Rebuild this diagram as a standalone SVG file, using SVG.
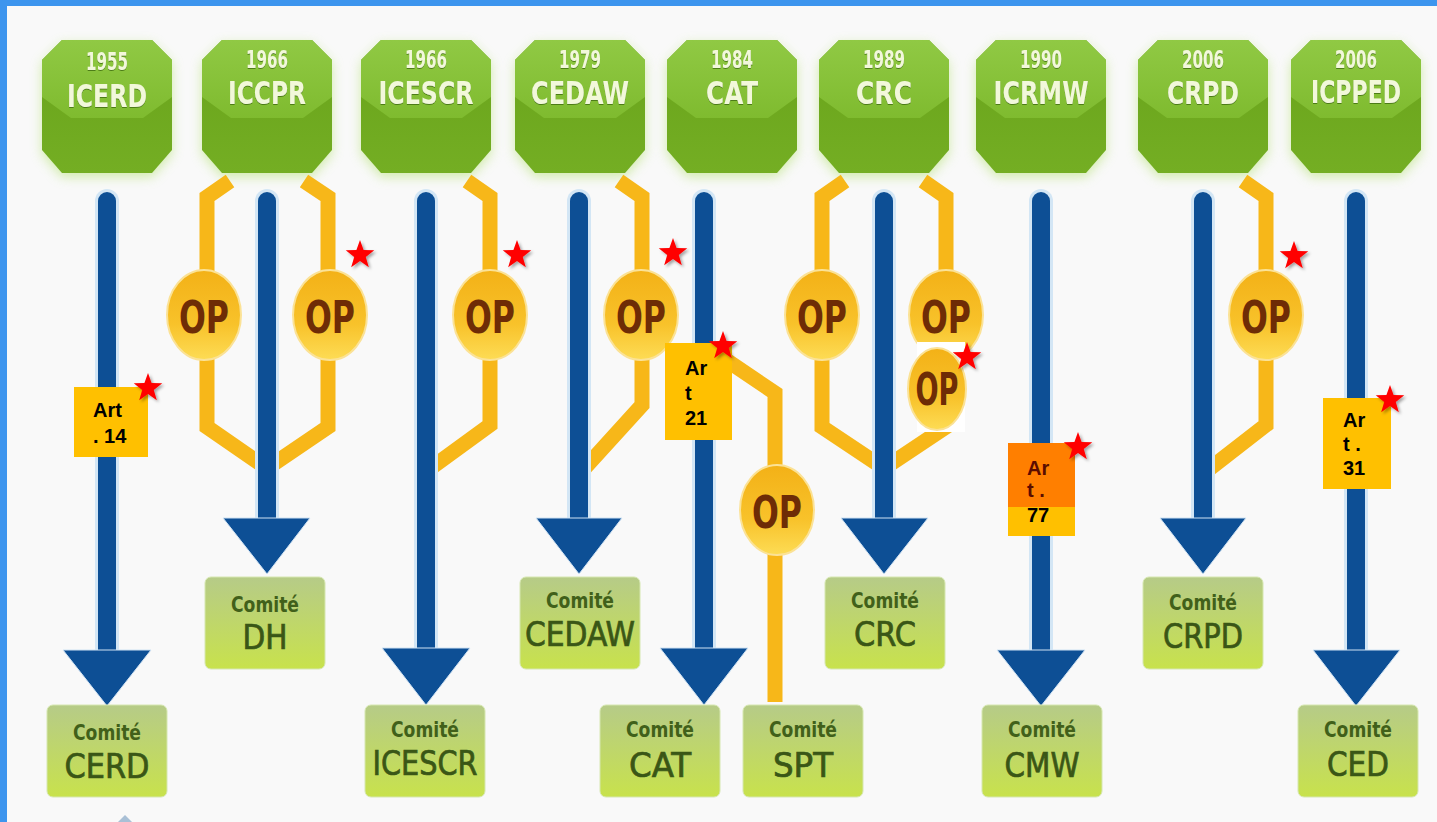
<svg xmlns="http://www.w3.org/2000/svg" width="1437" height="822" viewBox="0 0 1437 822">
<style>
.hex-out{fill:url(#gSide)}
.hex-top{fill:url(#gTop)}
.hex-glow{fill:#c3e690;opacity:.75;filter:url(#blur)}
.yr{font-family:"DejaVu Sans Condensed","DejaVu Sans",sans-serif;font-weight:bold;font-size:25px;fill:#f2f8da;text-anchor:middle;filter:url(#tshadow)}
.nm{font-family:"DejaVu Sans Condensed","DejaVu Sans",sans-serif;font-weight:bold;font-size:32px;fill:#f2f8da;text-anchor:middle;filter:url(#tshadow)}
.box{fill:url(#gBox);stroke:#d6e7b0;stroke-width:1}
.cm{font-family:"DejaVu Sans Condensed","DejaVu Sans",sans-serif;font-weight:bold;font-size:21px;fill:#41601a;text-anchor:middle}
.lb{font-family:"DejaVu Sans Condensed","DejaVu Sans",sans-serif;font-size:34px;fill:#3a5616;stroke:#3a5616;stroke-width:0.7;text-anchor:middle}
.br{fill:none;stroke:#f7b719;stroke-width:15;stroke-linejoin:miter}
.sg{stroke:#d3e6f5;stroke-width:24;stroke-linecap:round}
.sh{stroke:#0d4f95;stroke-width:18;stroke-linecap:round}
.head{fill:#0d4f95;stroke:#cfe2f3;stroke-width:1}
.op{fill:url(#gOP);stroke:#fbe296;stroke-width:2}
.opt{font-family:"DejaVu Sans Condensed","DejaVu Sans",sans-serif;font-weight:bold;font-size:44px;fill:#6e2c06;text-anchor:middle}
.art{fill:#ffc000}
.at{font-family:"Liberation Sans",Arial,sans-serif;font-weight:bold;font-size:20px;fill:#000}
.star{fill:#ff0000;filter:url(#sshadow)}
</style>
<defs>
<linearGradient id="gTop" x1="0" y1="0" x2="0" y2="1"><stop offset="0" stop-color="#90c944"/><stop offset="1" stop-color="#7fbb2f"/></linearGradient>
<linearGradient id="gSide" x1="0" y1="0" x2="0" y2="1"><stop offset="0" stop-color="#68a31b"/><stop offset="1" stop-color="#74ae23"/></linearGradient>
<linearGradient id="gBox" x1="0" y1="0" x2="0" y2="1"><stop offset="0" stop-color="#b6cb88"/><stop offset="1" stop-color="#c8e24c"/></linearGradient>
<linearGradient id="gOP" x1="0" y1="0" x2="0" y2="1"><stop offset="0" stop-color="#f3b117"/><stop offset="0.6" stop-color="#f8c22a"/><stop offset="1" stop-color="#fddc55"/></linearGradient>
<path id="hexOut" d="M-45,0 L45,0 L65,20 L65,110 L45,133 L-45,133 L-65,110 L-65,20Z"/>
<path id="hexTop" d="M-45,0 L45,0 L65,20 L65,57 L36,78 L-36,78 L-65,57 L-65,20Z"/>
<path id="star" d="M0,-15 L3.59,-4.94 L14.27,-4.64 L5.8,1.88 L8.82,12.14 L0,6.1 L-8.82,12.14 L-5.8,1.88 L-14.27,-4.64 L-3.59,-4.94Z"/>
<filter id="blur" x="-30%" y="-30%" width="160%" height="160%"><feGaussianBlur stdDeviation="6"/></filter>
<filter id="sshadow" x="-50%" y="-50%" width="200%" height="200%"><feDropShadow dx="2" dy="2" stdDeviation="1.5" flood-color="#000" flood-opacity="0.35"/></filter>
<filter id="tshadow" x="-10%" y="-20%" width="120%" height="140%"><feDropShadow dx="0" dy="1" stdDeviation="0.7" flood-color="#3d6a0c" flood-opacity="0.8"/></filter>
</defs>

<rect x="0" y="0" width="1437" height="822" fill="#f9f9f9"/>
<rect x="0" y="0" width="1437" height="6" fill="#3d95ee"/>
<rect x="0" y="0" width="7" height="822" fill="#3d95ee"/>

<!-- treaty hexagons -->
<g id="t-icerd" transform="translate(107,40)"><use href="#hexOut" class="hex-glow" y="4"/><use href="#hexOut" class="hex-out"/><use href="#hexTop" class="hex-top"/><text class="yr" y="30" textLength="42" lengthAdjust="spacingAndGlyphs">1955</text><text class="nm" y="67" textLength="80" lengthAdjust="spacingAndGlyphs">ICERD</text></g>
<g id="t-iccpr" transform="translate(267,40)"><use href="#hexOut" class="hex-glow" y="4"/><use href="#hexOut" class="hex-out"/><use href="#hexTop" class="hex-top"/><text class="yr" y="28" textLength="42" lengthAdjust="spacingAndGlyphs">1966</text><text class="nm" y="64" textLength="78" lengthAdjust="spacingAndGlyphs">ICCPR</text></g>
<g id="t-icescr" transform="translate(426,40)"><use href="#hexOut" class="hex-glow" y="4"/><use href="#hexOut" class="hex-out"/><use href="#hexTop" class="hex-top"/><text class="yr" y="28" textLength="42" lengthAdjust="spacingAndGlyphs">1966</text><text class="nm" y="64" textLength="95" lengthAdjust="spacingAndGlyphs">ICESCR</text></g>
<g id="t-cedaw" transform="translate(580,40)"><use href="#hexOut" class="hex-glow" y="4"/><use href="#hexOut" class="hex-out"/><use href="#hexTop" class="hex-top"/><text class="yr" y="28" textLength="42" lengthAdjust="spacingAndGlyphs">1979</text><text class="nm" y="64" textLength="98" lengthAdjust="spacingAndGlyphs">CEDAW</text></g>
<g id="t-cat" transform="translate(732,40)"><use href="#hexOut" class="hex-glow" y="4"/><use href="#hexOut" class="hex-out"/><use href="#hexTop" class="hex-top"/><text class="yr" y="28" textLength="42" lengthAdjust="spacingAndGlyphs">1984</text><text class="nm" y="64" textLength="52" lengthAdjust="spacingAndGlyphs">CAT</text></g>
<g id="t-crc" transform="translate(884,40)"><use href="#hexOut" class="hex-glow" y="4"/><use href="#hexOut" class="hex-out"/><use href="#hexTop" class="hex-top"/><text class="yr" y="28" textLength="42" lengthAdjust="spacingAndGlyphs">1989</text><text class="nm" y="64" textLength="56" lengthAdjust="spacingAndGlyphs">CRC</text></g>
<g id="t-icrmw" transform="translate(1041,40)"><use href="#hexOut" class="hex-glow" y="4"/><use href="#hexOut" class="hex-out"/><use href="#hexTop" class="hex-top"/><text class="yr" y="28" textLength="42" lengthAdjust="spacingAndGlyphs">1990</text><text class="nm" y="64" textLength="95" lengthAdjust="spacingAndGlyphs">ICRMW</text></g>
<g id="t-crpd" transform="translate(1203,40)"><use href="#hexOut" class="hex-glow" y="4"/><use href="#hexOut" class="hex-out"/><use href="#hexTop" class="hex-top"/><text class="yr" y="28" textLength="42" lengthAdjust="spacingAndGlyphs">2006</text><text class="nm" y="64" textLength="72" lengthAdjust="spacingAndGlyphs">CRPD</text></g>
<g id="t-icpped" transform="translate(1356,40)"><use href="#hexOut" class="hex-glow" y="4"/><use href="#hexOut" class="hex-out"/><use href="#hexTop" class="hex-top"/><text class="yr" y="28" textLength="42" lengthAdjust="spacingAndGlyphs">2006</text><text class="nm" y="63" textLength="90" lengthAdjust="spacingAndGlyphs">ICPPED</text></g>

<!-- connectors -->
<g id="connectors">
  <g id="op-branches">
    <path class="br" d="M230,181 L207,197 L207,280 M207,350 L207,427 L262,465"/>
    <path class="br" d="M304,181 L328,197 L328,280 M328,350 L328,427 L272,465"/>
    <path class="br" d="M467,181 L490,197 L490,280 M490,350 L490,425 L431,468"/>
    <path class="br" d="M619,181 L642,197 L642,280 M642,350 L642,405 L583,470"/>
    <path class="br" d="M704,345 L775,393 L775,470 M775,550 L775,702"/>
    <path class="br" d="M845,181 L822,197 L822,280 M822,350 L822,427 L879,465"/>
    <path class="br" d="M923,181 L946,197 L946,280 M946,350 L946,427 L889,465"/>
    <path class="br" d="M1243,181 L1266,197 L1266,280 M1266,350 L1266,425 L1208,470"/>
  </g>
  <g id="shafts">
    <line class="sg" x1="107" y1="201" x2="107" y2="652"/><line class="sh" x1="107" y1="201" x2="107" y2="652"/>
    <polygon class="head" points="63,650 151,650 107,706"/>
    <line class="sg" x1="267" y1="201" x2="267" y2="520"/><line class="sh" x1="267" y1="201" x2="267" y2="520"/>
    <polygon class="head" points="223,518 310,518 267,574"/>
    <line class="sg" x1="426" y1="201" x2="426" y2="650"/><line class="sh" x1="426" y1="201" x2="426" y2="650"/>
    <polygon class="head" points="382,648 470,648 426,705"/>
    <line class="sg" x1="579" y1="201" x2="579" y2="520"/><line class="sh" x1="579" y1="201" x2="579" y2="520"/>
    <polygon class="head" points="536,518 622,518 579,574"/>
    <line class="sg" x1="704" y1="201" x2="704" y2="650"/><line class="sh" x1="704" y1="201" x2="704" y2="650"/>
    <polygon class="head" points="660,648 748,648 704,705"/>
    <line class="sg" x1="884" y1="201" x2="884" y2="520"/><line class="sh" x1="884" y1="201" x2="884" y2="520"/>
    <polygon class="head" points="841,518 928,518 884,574"/>
    <line class="sg" x1="1041" y1="201" x2="1041" y2="652"/><line class="sh" x1="1041" y1="201" x2="1041" y2="652"/>
    <polygon class="head" points="997,650 1085,650 1041,706"/>
    <line class="sg" x1="1203" y1="201" x2="1203" y2="520"/><line class="sh" x1="1203" y1="201" x2="1203" y2="520"/>
    <polygon class="head" points="1160,518 1246,518 1203,574"/>
    <line class="sg" x1="1356" y1="201" x2="1356" y2="652"/><line class="sh" x1="1356" y1="201" x2="1356" y2="652"/>
    <polygon class="head" points="1313,650 1400,650 1356,706"/>
  </g>
</g>

<!-- OP nodes -->
<g id="op-iccpr-1"><ellipse class="op" cx="204" cy="315" rx="37" ry="45"/><text class="opt" x="204" y="333" textLength="50" lengthAdjust="spacingAndGlyphs">OP</text></g>
<g id="op-iccpr-2"><ellipse class="op" cx="330" cy="315" rx="37" ry="45"/><text class="opt" x="330" y="333" textLength="50" lengthAdjust="spacingAndGlyphs">OP</text></g>
<g id="op-icescr"><ellipse class="op" cx="490" cy="315" rx="37" ry="45"/><text class="opt" x="490" y="333" textLength="50" lengthAdjust="spacingAndGlyphs">OP</text></g>
<g id="op-cedaw"><ellipse class="op" cx="641" cy="315" rx="37" ry="45"/><text class="opt" x="641" y="333" textLength="50" lengthAdjust="spacingAndGlyphs">OP</text></g>
<g id="op-cat"><ellipse class="op" cx="777" cy="510" rx="37" ry="45"/><text class="opt" x="777" y="528" textLength="50" lengthAdjust="spacingAndGlyphs">OP</text></g>
<g id="op-crc-1"><ellipse class="op" cx="822" cy="315" rx="37" ry="45"/><text class="opt" x="822" y="333" textLength="50" lengthAdjust="spacingAndGlyphs">OP</text></g>
<g id="op-crc-2"><ellipse class="op" cx="946" cy="315" rx="37" ry="45"/><text class="opt" x="946" y="333" textLength="50" lengthAdjust="spacingAndGlyphs">OP</text></g>
<g id="op-crpd"><ellipse class="op" cx="1266" cy="315" rx="37" ry="45"/><text class="opt" x="1266" y="333" textLength="50" lengthAdjust="spacingAndGlyphs">OP</text></g>
<g id="op-crc-3"><rect x="917" y="342" width="48" height="90" fill="#ffffff"/><ellipse class="op" cx="937" cy="389" rx="29" ry="41"/><text class="opt" x="937" y="405" font-size="40" textLength="43" lengthAdjust="spacingAndGlyphs">OP</text></g>

<!-- committee nodes -->
<g id="c-cerd"><rect class="box" x="47" y="705" width="120" height="92" rx="6"/><text class="cm" x="107" y="740" textLength="68" lengthAdjust="spacingAndGlyphs">Comité</text><text class="lb" x="107" y="778" textLength="85" lengthAdjust="spacingAndGlyphs">CERD</text></g>
<g id="c-dh"><rect class="box" x="205" y="577" width="120" height="92" rx="6"/><text class="cm" x="265" y="612" textLength="68" lengthAdjust="spacingAndGlyphs">Comité</text><text class="lb" x="265" y="649" textLength="45" lengthAdjust="spacingAndGlyphs">DH</text></g>
<g id="c-icescr"><rect class="box" x="365" y="705" width="120" height="92" rx="6"/><text class="cm" x="425" y="737" textLength="68" lengthAdjust="spacingAndGlyphs">Comité</text><text class="lb" x="425" y="775" textLength="105" lengthAdjust="spacingAndGlyphs">ICESCR</text></g>
<g id="c-cedaw"><rect class="box" x="520" y="577" width="120" height="92" rx="6"/><text class="cm" x="580" y="608" textLength="68" lengthAdjust="spacingAndGlyphs">Comité</text><text class="lb" x="580" y="646" textLength="110" lengthAdjust="spacingAndGlyphs">CEDAW</text></g>
<g id="c-cat"><rect class="box" x="600" y="705" width="120" height="92" rx="6"/><text class="cm" x="660" y="737" textLength="68" lengthAdjust="spacingAndGlyphs">Comité</text><text class="lb" x="660" y="777" textLength="62" lengthAdjust="spacingAndGlyphs">CAT</text></g>
<g id="c-spt"><rect class="box" x="743" y="705" width="120" height="92" rx="6"/><text class="cm" x="803" y="737" textLength="68" lengthAdjust="spacingAndGlyphs">Comité</text><text class="lb" x="803" y="777" textLength="60" lengthAdjust="spacingAndGlyphs">SPT</text></g>
<g id="c-crc"><rect class="box" x="825" y="577" width="120" height="92" rx="6"/><text class="cm" x="885" y="608" textLength="68" lengthAdjust="spacingAndGlyphs">Comité</text><text class="lb" x="885" y="646" textLength="62" lengthAdjust="spacingAndGlyphs">CRC</text></g>
<g id="c-cmw"><rect class="box" x="982" y="705" width="120" height="92" rx="6"/><text class="cm" x="1042" y="737" textLength="68" lengthAdjust="spacingAndGlyphs">Comité</text><text class="lb" x="1042" y="777" textLength="75" lengthAdjust="spacingAndGlyphs">CMW</text></g>
<g id="c-crpd"><rect class="box" x="1143" y="577" width="120" height="92" rx="6"/><text class="cm" x="1203" y="610" textLength="68" lengthAdjust="spacingAndGlyphs">Comité</text><text class="lb" x="1203" y="648" textLength="80" lengthAdjust="spacingAndGlyphs">CRPD</text></g>
<g id="c-ced"><rect class="box" x="1298" y="705" width="120" height="92" rx="6"/><text class="cm" x="1358" y="737" textLength="68" lengthAdjust="spacingAndGlyphs">Comité</text><text class="lb" x="1358" y="776" textLength="62" lengthAdjust="spacingAndGlyphs">CED</text></g>
<polygon points="118,822 125,815 132,822" fill="#a9c0d6"/>

<!-- article boxes -->
<g id="art-14"><rect class="art" x="74" y="387" width="74" height="70"/><text class="at" x="93" y="417">Art</text><text class="at" x="93" y="443">. 14</text></g>
<g id="art-21"><rect class="art" x="665" y="343" width="67" height="97"/><text class="at" x="685" y="375">Ar</text><text class="at" x="685" y="400">t</text><text class="at" x="685" y="425">21</text></g>
<g id="art-77"><rect x="1008" y="443" width="67" height="93" fill="#ffc000"/><rect x="1008" y="443" width="67" height="64" fill="#ff7f00"/><text class="at" x="1027" y="475" style="fill:#5a0c00">Ar</text><text class="at" x="1027" y="497" style="fill:#5a0c00">t .</text><text class="at" x="1027" y="522">77</text></g>
<g id="art-31"><rect class="art" x="1323" y="398" width="68" height="91"/><text class="at" x="1343" y="427">Ar</text><text class="at" x="1343" y="451">t .</text><text class="at" x="1343" y="475">31</text></g>

<!-- stars -->
<g id="stars">
<use href="#star" class="star" x="148" y="388"/>
<use href="#star" class="star" x="360" y="255"/>
<use href="#star" class="star" x="517" y="255"/>
<use href="#star" class="star" x="673" y="253"/>
<use href="#star" class="star" x="723" y="346"/>
<use href="#star" class="star" x="967" y="357"/>
<use href="#star" class="star" x="1078" y="447"/>
<use href="#star" class="star" x="1294" y="256"/>
<use href="#star" class="star" x="1390" y="400"/>
</g>
</svg>
